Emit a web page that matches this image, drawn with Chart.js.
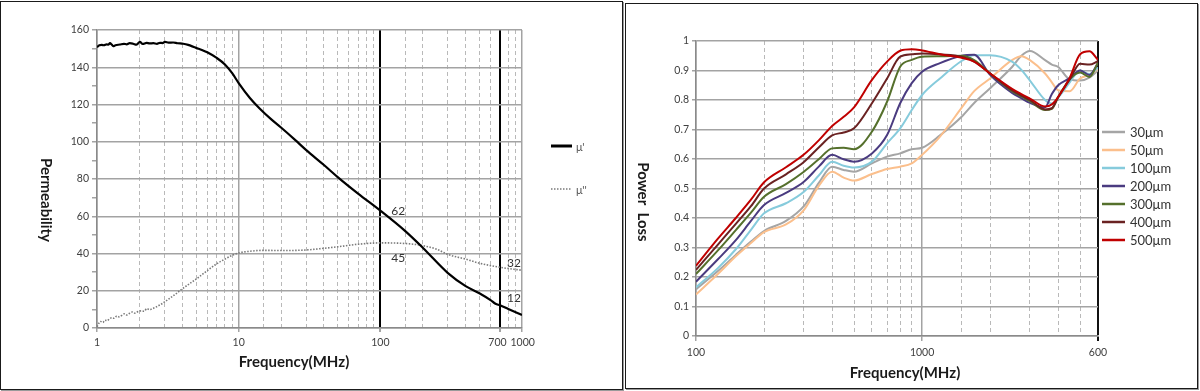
<!DOCTYPE html>
<html>
<head>
<meta charset="utf-8">
<script src="https://cdn.jsdelivr.net/npm/chart.js@4/dist/chart.umd.min.js"></script>
<style>
html,body{margin:0;padding:0;background:#fff;}
body{width:1200px;height:391px;position:relative;overflow:hidden;}
#w1{position:absolute;left:0;top:0;width:620px;height:391px;}
#w2{position:absolute;left:620px;top:0;width:580px;height:391px;}
.frame{position:absolute;border:1.5px solid #1a1a1a;box-sizing:border-box;pointer-events:none;box-shadow:1px 1px 0 #9a9a9a;}
</style>
</head>
<body>
<div id="w1"><canvas id="c1" width="620" height="391"></canvas></div>
<div id="w2"><canvas id="c2" width="580" height="391"></canvas></div>
<div class="frame" style="left:0px;top:1px;width:623px;height:389px"></div>
<div class="frame" style="left:625px;top:3px;width:573px;height:386px"></div>
<script>
// ---------------- Left chart: permeability ----------------
const muRealFreq = [1,1.04,1.08,1.12,1.17,1.2,1.235,1.27,1.3,1.35,1.45,1.55,1.62,1.7,1.8,1.9,2.01,2.1,2.24,2.35,2.5,2.65,2.78,2.9,3.02,3.2,3.45,3.7,4.06,4.4,4.78,5,5.5,6,7,8,9,10,12,14,17,20,25,30,40,50,70,100,150,200,300,400,500,600,650,700,800,1000];
const muRealVals = [150.8,151.8,152,151.8,152.3,152.1,152.9,152.2,151.3,151.8,152.2,152.6,152.3,152.9,152.6,152.1,153.6,152.5,153.1,152.8,152.9,152.6,153.1,153.0,153.6,153.2,153.3,152.9,152.6,152.0,151.0,150.4,149.3,148.0,145.0,141.5,136.8,131.5,123.5,118,112,107.5,101,95.5,87.5,81,72,63,52,43,29.5,22.5,18.7,15,13,12.2,10.2,7];
const muImagFreq = [1,1.03,1.06,1.1,1.14,1.18,1.22,1.27,1.32,1.38,1.43,1.5,1.56,1.62,1.7,1.78,1.85,1.95,2.05,2.15,2.25,2.35,2.45,2.6,2.8,3,3.3,3.6,4,4.5,5,6,7,8,9,10,12,15,20,30,40,50,70,100,130,170,200,250,300,400,500,700,1000];
const muImagVals = [0.7,2.5,3.5,3.0,4.2,3.9,4.8,5.5,5.2,6.4,6.0,6.8,7.6,7.0,7.9,8.6,8.0,8.8,9.2,9.0,10.4,9.8,10.3,11.2,12.5,14.0,16.2,18.3,21.0,23.8,26.2,30.8,34.5,37.0,39.0,40.3,41.2,41.7,41.6,41.9,42.8,43.6,45.0,45.7,45.6,45.0,44.2,42.3,39.5,37.0,34.8,32.6,31.0];
const permSeriesNames = ["μ'", "μ''"];
const permXTicks = [1,10,100,700,1000];
const permXTickLabels = ['1','10','100','700\u2002','\u20091000'];
const permMarkerFreqs = [100,700];
const permNoteTexts = ['62','45','32','12'];
const permNoteFreqs = [100,100,700,700];
const permNoteValues = [63,37.6,35,16.3];

// ---------------- Right chart: power loss ----------------
const lossFreq = [100,125,150,175,200,250,300,350,400,450,500,600,700,800,900,1000,1200,1500,1700,2000,2500,2750,3000,3500,3750,4000,4500,5000,5500,6000];
const loss30  = [0.158,0.22,0.275,0.32,0.356,0.39,0.44,0.52,0.574,0.563,0.557,0.585,0.608,0.619,0.633,0.638,0.68,0.744,0.79,0.84,0.912,0.95,0.966,0.935,0.92,0.912,0.87,0.866,0.876,0.9];
const loss50  = [0.141,0.21,0.27,0.315,0.352,0.378,0.427,0.51,0.557,0.537,0.527,0.549,0.566,0.574,0.585,0.614,0.676,0.775,0.83,0.873,0.935,0.948,0.935,0.89,0.86,0.833,0.83,0.873,0.885,0.905];
const loss100 = [0.165,0.23,0.294,0.36,0.416,0.45,0.489,0.545,0.591,0.577,0.571,0.591,0.653,0.704,0.766,0.817,0.873,0.933,0.952,0.952,0.93,0.902,0.866,0.8,0.788,0.808,0.86,0.9,0.888,0.91];
const loss200 = [0.184,0.26,0.325,0.39,0.444,0.485,0.523,0.575,0.614,0.599,0.591,0.619,0.681,0.789,0.857,0.896,0.925,0.95,0.953,0.885,0.824,0.806,0.79,0.775,0.82,0.85,0.874,0.9,0.885,0.925];
const loss300 = [0.21,0.29,0.359,0.418,0.472,0.515,0.557,0.60,0.636,0.638,0.633,0.693,0.794,0.913,0.936,0.947,0.948,0.95,0.935,0.89,0.83,0.812,0.796,0.766,0.77,0.81,0.87,0.893,0.878,0.927];
const loss400 = [0.224,0.31,0.38,0.44,0.50,0.548,0.59,0.64,0.68,0.69,0.704,0.789,0.873,0.947,0.955,0.958,0.955,0.947,0.93,0.89,0.833,0.815,0.80,0.768,0.772,0.81,0.87,0.923,0.92,0.932];
const loss500 = [0.238,0.33,0.40,0.462,0.521,0.572,0.615,0.664,0.712,0.743,0.775,0.868,0.93,0.967,0.972,0.968,0.955,0.943,0.93,0.89,0.838,0.82,0.805,0.778,0.785,0.81,0.876,0.955,0.965,0.936];
const lossSeriesNames = ['30μm','50μm','100μm','200μm','300μm','400μm','500μm'];
const lossSeriesValues = [loss30, loss50, loss100, loss200, loss300, loss400, loss500];
const lossColors = ['#a5a5a5','#fbbf8c','#86cbdc','#4a3b80','#55702c','#6a2222','#c00000'];
const lossXTicks = [100,1000,6000];
const lossXTickLabels = ['100','1000','600'];
const lossYTicks = [0,0.1,0.2,0.3,0.4,0.5,0.6,0.7,0.8,0.9,1];
const lossYTickLabels = ['0','0.1','0.2','0.3','0.4','0.5','0.6','0.7','0.8','0.9','1'];

// ---------------- helpers ----------------
Chart.defaults.font.family = 'Lato, "Liberation Sans", sans-serif';
const TICK_COLOR = '#404040';
const TICK_FONT = {size: 10.5};
const GRID = '#a3a3a3';
const MINOR = '#b9b9b9';
const pairs = (xs, ys) => xs.map((x, i) => ({x: x, y: ys[i]}));
const isDecade = v => Math.abs(Math.log10(v) - Math.round(Math.log10(v))) < 1e-9;

// ---------------- Left chart ----------------
const overlay1 = {
  id: 'overlay1',
  afterDraw(chart) {
    const ctx = chart.ctx;
    const xs = chart.scales.x, ys = chart.scales.y;
    ctx.save();
    ctx.fillStyle = '#1a1a1a';
    ctx.font = 'bold 15px Lato, sans-serif';
    ctx.textAlign = 'center';
    ctx.textBaseline = 'middle';
    ctx.fillText('Frequency(MHz)', 294, 362);
    ctx.save();
    ctx.translate(46, 200);
    ctx.rotate(Math.PI / 2);
    ctx.fillText('Permeability', 0, 0);
    ctx.restore();
    // value notes
    ctx.font = '12px Lato, sans-serif';
    ctx.fillStyle = '#333';
    ctx.textAlign = 'left';
    for (let i = 0; i < permNoteTexts.length; i++) {
      const off = permNoteFreqs[i] === 100 ? 11 : 7;
      ctx.fillText(permNoteTexts[i], xs.getPixelForValue(permNoteFreqs[i]) + off, ys.getPixelForValue(permNoteValues[i]));
    }
    // legend
    const ds = chart.data.datasets;
    const rows = [146, 189];
    for (let i = 0; i < ds.length; i++) {
      ctx.beginPath();
      ctx.strokeStyle = ds[i].borderColor;
      ctx.lineWidth = i === 0 ? 3 : 1.5;
      ctx.setLineDash(i === 0 ? [] : [1.5, 1.5]);
      ctx.moveTo(551, rows[i]);
      ctx.lineTo(572, rows[i]);
      ctx.stroke();
      ctx.setLineDash([]);
      ctx.fillStyle = '#555';
      ctx.font = '11px Lato, sans-serif';
      ctx.fillText(permSeriesNames[i], 576, rows[i] + 1);
    }
    ctx.restore();
  }
};

new Chart(document.getElementById('c1'), {
  type: 'line',
  data: {
    datasets: [
      {label: permSeriesNames[0], data: pairs(muRealFreq, muRealVals), borderColor: '#000', borderWidth: 2.2, pointRadius: 0, cubicInterpolationMode: 'monotone'},
      {label: permSeriesNames[1], data: pairs(muImagFreq, muImagVals), borderColor: '#7a7a7a', borderWidth: 1.6, borderDash: [1.5, 1.5], pointRadius: 0, cubicInterpolationMode: 'monotone'}
    ]
  },
  options: {
    responsive: false,
    animation: false,
    layout: {padding: {left: 0, top: 30, right: 98, bottom: 0}},
    plugins: {legend: {display: false}, tooltip: {enabled: false}},
    scales: {
      x: {
        type: 'logarithmic', min: 1, max: 1000, position: 'bottom',
        afterBuildTicks: s => { s.ticks = permXTicks.map(v => ({value: v})); },
        afterFit: s => { s.height = 63; },
        ticks: {autoSkip: false, maxRotation: 0, padding: 4, color: TICK_COLOR, font: TICK_FONT,
          callback: v => { const k = permXTicks.indexOf(v); return k >= 0 ? permXTickLabels[k] : ''; }},
        grid: {
          color: c => (c.tick && permMarkerFreqs.includes(c.tick.value)) ? '#000' : GRID,
          lineWidth: c => (c.tick && permMarkerFreqs.includes(c.tick.value)) ? 2 : 1.5,
          tickLength: 4, tickColor: GRID
        },
        border: {color: '#8a8a8a', width: 1.5}
      },
      xm: {
        type: 'logarithmic', min: 1, max: 1000, position: 'bottom',
        afterFit: s => { s.height = 0; },
        ticks: {display: false},
        grid: {drawTicks: false, lineWidth: 1, color: c => (c.tick && !isDecade(c.tick.value) && !permMarkerFreqs.includes(c.tick.value)) ? MINOR : 'rgba(0,0,0,0)'},
        border: {display: false, dash: [4, 3]}
      },
      y: {
        min: 0, max: 160,
        afterFit: s => { s.width = 97; },
        ticks: {stepSize: 10, autoSkip: false, padding: 3, color: TICK_COLOR, font: TICK_FONT,
          callback: v => (v % 20 === 0 ? String(v) : '')},
        grid: {
          color: c => (c.tick && c.tick.value % 20 === 0) ? GRID : 'rgba(0,0,0,0)',
          lineWidth: 1.5, tickLength: 5, tickColor: GRID
        },
        border: {color: '#8a8a8a', width: 1.5}
      }
    }
  },
  plugins: [overlay1]
});

// ---------------- Right chart ----------------
const overlay2 = {
  id: 'overlay2',
  afterDraw(chart) {
    const ctx = chart.ctx;
    ctx.save();
    ctx.fillStyle = '#1a1a1a';
    ctx.font = 'bold 15px Lato, sans-serif';
    ctx.textAlign = 'center';
    ctx.textBaseline = 'middle';
    ctx.fillText('Frequency(MHz)', 285, 373);
    ctx.save();
    ctx.translate(23, 202);
    ctx.rotate(Math.PI / 2);
    ctx.fillText('Power  Loss', 0, 0);
    ctx.restore();
    ctx.textAlign = 'left';
    ctx.font = '13px Lato, sans-serif';
    for (let i = 0; i < lossSeriesNames.length; i++) {
      const y = 132 + i * 18;
      ctx.beginPath();
      ctx.strokeStyle = lossColors[i];
      ctx.lineWidth = 2.5;
      ctx.moveTo(482, y);
      ctx.lineTo(505, y);
      ctx.stroke();
      ctx.fillStyle = '#333';
      ctx.fillText(lossSeriesNames[i], 510, y + 1);
    }
    ctx.restore();
  }
};

new Chart(document.getElementById('c2'), {
  type: 'line',
  data: {
    datasets: lossSeriesNames.map((name, i) => ({
      label: name,
      data: pairs(lossFreq, lossSeriesValues[i]),
      borderColor: lossColors[i],
      borderWidth: 2,
      pointRadius: 0,
      cubicInterpolationMode: 'monotone',
      order: lossSeriesNames.length - i
    }))
  },
  options: {
    responsive: false,
    animation: false,
    layout: {padding: {left: 0, top: 41, right: 102, bottom: 0}},
    plugins: {legend: {display: false}, tooltip: {enabled: false}},
    scales: {
      x: {
        type: 'logarithmic', min: 100, max: 6000, position: 'bottom',
        afterBuildTicks: s => { s.ticks = lossXTicks.map(v => ({value: v})); },
        afterFit: s => { s.height = 55; },
        ticks: {autoSkip: false, maxRotation: 0, padding: 5, color: TICK_COLOR, font: TICK_FONT,
          callback: v => { const k = lossXTicks.indexOf(v); return k >= 0 ? lossXTickLabels[k] : ''; }},
        grid: {
          color: c => (c.tick && c.tick.value === 6000) ? '#111' : GRID,
          lineWidth: c => (c.tick && c.tick.value === 6000) ? 2 : 1.5,
          tickLength: 5,
          tickColor: c => (c.tick && c.tick.value === 6000) ? '#111' : GRID
        },
        border: {color: '#8a8a8a', width: 1.5}
      },
      xm: {
        type: 'logarithmic', min: 100, max: 6000, position: 'bottom',
        afterFit: s => { s.height = 0; },
        ticks: {display: false},
        grid: {drawTicks: false, lineWidth: 1, color: c => (c.tick && !isDecade(c.tick.value) && c.tick.value < 6000) ? MINOR : 'rgba(0,0,0,0)'},
        border: {display: false, dash: [4, 3]}
      },
      y: {
        min: 0, max: 1,
        afterBuildTicks: s => { s.ticks = lossYTicks.map(v => ({value: v})); },
        afterFit: s => { s.width = 76; },
        ticks: {autoSkip: false, padding: 3, color: TICK_COLOR, font: TICK_FONT,
          callback: (v, i) => lossYTickLabels[i]},
        grid: {color: GRID, lineWidth: 1.5, tickLength: 4, tickColor: GRID},
        border: {color: '#8a8a8a', width: 1.5}
      }
    }
  },
  plugins: [overlay2]
});
</script>
</body>
</html>
